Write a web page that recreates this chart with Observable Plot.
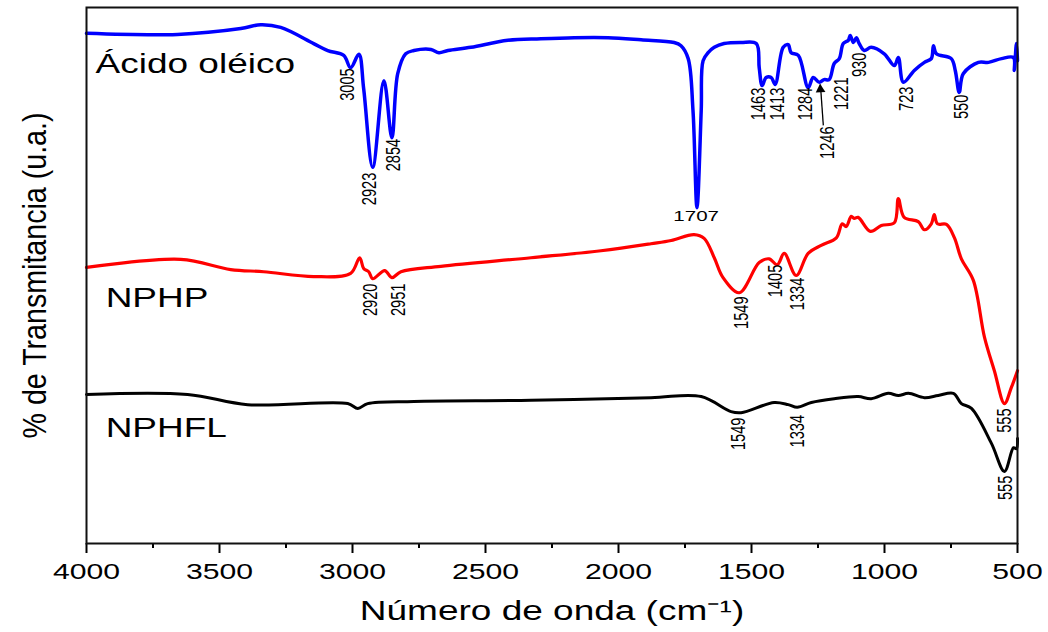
<!DOCTYPE html>
<html><head><meta charset="utf-8">
<script src="https://cdn.jsdelivr.net/npm/d3@7"></script>
<script src="https://cdn.jsdelivr.net/npm/@observablehq/plot@0.6"></script>
<style>body{margin:0;background:#fff} svg{display:block;background:#fff}</style>
</head><body><div id="chart"></div>
<script>
// ---- Data ----
const oleicWn = [4000,3658,3420,3345,3270,3146,3093,3033,3007,2976,2958,2924,2882,2852,2830,2800,2769,2705,2675,2641,2555,2416,2292,2167,2039,1915,1791,1765,1738,1720,1705,1689,1682,1663,1640,1603,1539,1482,1471,1460,1445,1426,1411,1381,1362,1351,1324,1287,1268,1245,1227,1208,1189,1170,1155,1136,1129,1117,1106,1095,1076,1050,1001,963,948,929,888,850,824,816,805,749,734,719,704,647,609,560,515,512,504,500];
const oleicT  = [95.2,95.0,96.1,96.8,96.3,93.3,92.0,91.1,88.8,91.3,84.9,70.3,86.4,75.8,87.7,91.4,92.0,92.2,91.6,92.0,92.6,93.9,94.2,94.4,94.4,94.0,93.5,92.9,90.5,80.9,62.8,80.9,90.1,91.6,92.6,93.3,93.5,93.3,88.8,85.5,87.0,87.0,85.7,92.6,93.1,91.6,91.1,85.1,87.0,86.1,86.6,86.6,89.6,90.5,93.3,93.9,94.8,93.5,94.4,93.3,92.0,92.6,91.4,89.2,90.7,86.1,88.3,89.8,90.5,92.9,91.4,90.5,88.3,84.2,87.7,89.8,89.8,90.5,90.7,88.3,93.3,90.1];

const nphpWn = [4000,3646,3458,3334,3146,3007,2973,2958,2939,2924,2879,2852,2818,2668,2329,2066,1878,1802,1716,1678,1640,1607,1546,1471,1434,1403,1377,1332,1287,1238,1181,1159,1144,1125,1114,1099,1053,1012,963,948,926,873,850,824,813,801,767,737,711,666,624,587,549,523,500];
const nphpT  = [51.7,53.2,51.3,50.9,50.0,50.6,53.5,51.5,50.9,49.6,51.1,49.8,50.9,51.9,53.5,54.8,56.1,56.7,57.8,57.1,53.5,49.8,47.0,52.6,53.3,52.2,54.3,50.2,54.3,55.8,57.2,59.8,59.3,61.2,60.8,61.0,58.4,59.5,60.0,64.5,61.0,60.2,58.7,59.8,61.5,59.8,59.7,57.2,53.3,49.3,38.7,32.5,26.4,29.4,32.5];

const nphflWn = [4000,3620,3394,3018,2980,2943,2769,2329,1878,1689,1577,1539,1415,1362,1328,1275,1189,1099,1050,986,948,910,850,798,741,711,673,598,549,515,504,500];
const nphflT  = [28.1,28.1,26.2,26.4,25.5,26.4,26.8,27.0,27.5,27.7,24.9,24.7,26.6,26.2,25.7,26.6,27.3,27.7,27.3,28.3,27.9,28.3,27.5,27.9,28.3,26.4,25.5,19.0,13.8,18.2,18.0,19.9];

// peak annotations (rotated), position = centre x, top y
const peakText = ["3005","2923","2854","1463","1413","1284","1246","1221","930","723","550","2920","2951","1549","1405","1334","555","1549","1334","555"];
const peakX    = [3018,2935,2845,1475,1403,1298,1215,1162,1095,918,711,2931,2826,1539,1411,1328,549,1550,1328,545];
const peakY    = [88.7,69.3,75.6,85.1,85.1,85.1,77.9,87.0,91.6,85.3,83.8,48.7,48.7,46.3,52.2,49.8,25.5,23.8,24.3,13.0];

const flatText = ["1707"];
const flatX = [1708];
const flatY = [61.2];

const seriesNames = ["Ácido oléico","NPHP","NPHFL"];
const seriesNameX = [3966,3928,3928];
const seriesNameY = [87.9,44.4,20.1];

const arrowFrom = [1230, 78.1];
const arrowTo   = [1241, 85.7];

const majorTicks = [4000,3500,3000,2500,2000,1500,1000,500];
const minorTicks = [3750,3250,2750,2250,1750,1250,750];

const xTitle = "Número de onda (cm⁻¹)";
const yTitle = "% de Transmitancia (u.a.)";

// ---- Build tables ----
const toRows = (wn, t) => wn.map((w, i) => ({wn: w, t: t[i]}));
const oleic = toRows(oleicWn, oleicT);
const nphp = toRows(nphpWn, nphpT);
const nphfl = toRows(nphflWn, nphflT);
const peaks = peakText.map((s, i) => ({text: s, x: peakX[i], y: peakY[i]}));
const flat = flatText.map((s, i) => ({text: s, x: flatX[i], y: flatY[i]}));
const names = seriesNames.map((s, i) => ({text: s, x: seriesNameX[i], y: seriesNameY[i]}));
const arrow = [{x1: arrowFrom[0], y1: arrowFrom[1], x2: arrowTo[0], y2: arrowTo[1]}];

const FONT = "'Liberation Sans', Arial, Helvetica, sans-serif";
const S = 1.37; // horizontal stretch of the original figure

const svg = Plot.plot({
  width: 1048, height: 632,
  marginLeft: 86, marginRight: 31, marginTop: 7, marginBottom: 89,
  style: {fontFamily: FONT, color: "black", background: "white"},
  x: {domain: [4000, 500]},
  y: {domain: [0.4, 100], axis: null},
  marks: [
    Plot.axisX({ticks: minorTicks, tickSize: 5, tickFormat: () => "", strokeWidth: 2, label: null}),
    Plot.axisX({ticks: majorTicks, tickSize: 10, tickPadding: 10, tickFormat: d => String(d),
      fontSize: 22, fontFamily: FONT, strokeWidth: 2, label: null}),
    Plot.line(nphfl, {x: "wn", y: "t", stroke: "#000000", strokeWidth: 3, curve: "catmull-rom"}),
    Plot.line(nphp, {x: "wn", y: "t", stroke: "#ff0000", strokeWidth: 3.2, curve: "catmull-rom"}),
    Plot.line(oleic, {x: "wn", y: "t", stroke: "#0000ff", strokeWidth: 3.5, curve: "catmull-rom"}),
    Plot.frame({stroke: "#111", strokeWidth: 2}),
    Plot.text(peaks, {x: "x", y: "y", text: "text", rotate: -90, textAnchor: "end",
      fontSize: 20, fontFamily: FONT, fill: "black", className: "rot"}),
    Plot.text(flat, {x: "x", y: "y", text: "text", fontSize: 15, fontFamily: FONT, fill: "black", className: "hor"}),
    Plot.text(names, {x: "x", y: "y", text: "text", textAnchor: "start", lineAnchor: "bottom",
      fontSize: 27, fontFamily: FONT, fill: "black", className: "hor"}),
    Plot.link(arrow, {x1: "x1", y1: "y1", x2: "x2", y2: "y2", stroke: "black", strokeWidth: 1.3}),
    Plot.dot(arrow, {x: "x2", y: "y2", symbol: "triangle", fill: "black", r: 3.6, dy: 5, rotate: -4}),
    Plot.text([xTitle], {frameAnchor: "bottom", dy: 76, lineAnchor: "bottom", fontSize: 27,
      fontFamily: FONT, fill: "black", className: "hor"}),
    Plot.text([yTitle], {frameAnchor: "left", dx: -51, dy: -163, rotate: -90, textAnchor: "end", fontSize: 33,
      fontFamily: FONT, fill: "black", className: "ytitle"})
  ]
});

document.getElementById("chart").append(svg);

// emulate the horizontally stretched look of the original figure
const fit = (selector, f) => svg.querySelectorAll(selector).forEach(t => {
  const w = t.getComputedTextLength();
  if (w > 0) {
    t.setAttribute("textLength", f(w).toFixed(1));
    t.setAttribute("lengthAdjust", "spacingAndGlyphs");
  }
});
fit(".hor text, g[aria-label='x-axis tick label'] text", w => w * S);
fit(".rot text", w => w / S);
fit(".ytitle text", w => Math.min(w, 326));
</script>
</body></html>
